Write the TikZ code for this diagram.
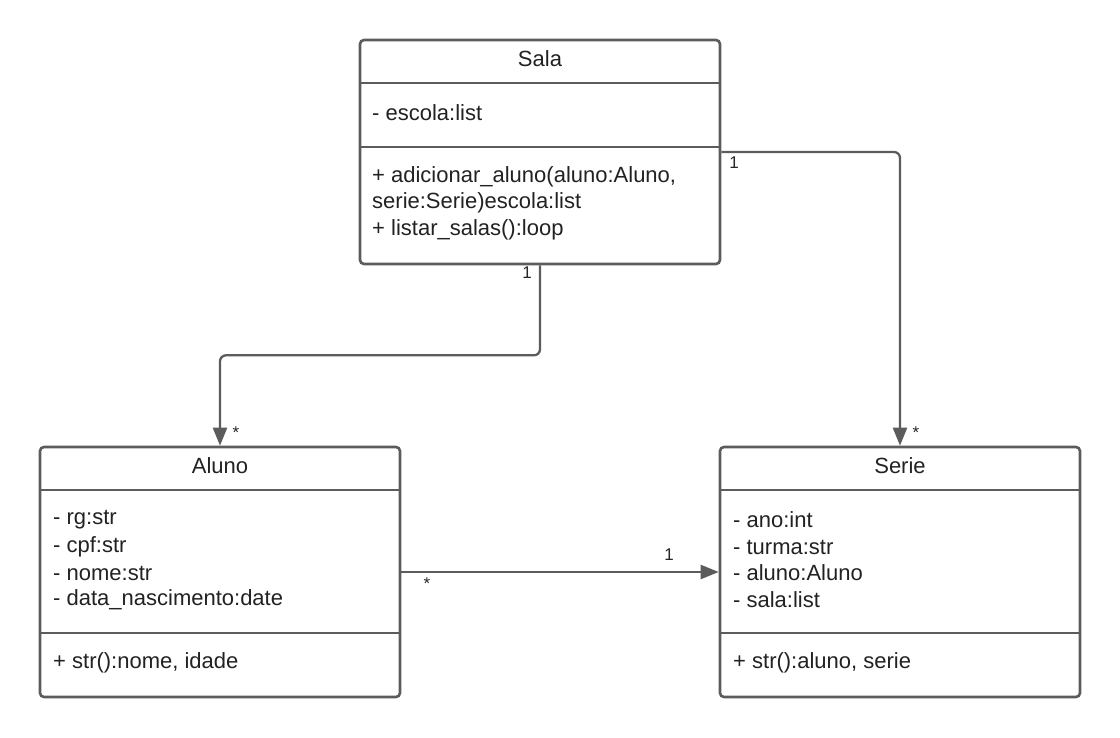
\documentclass[tikz,border=0pt]{standalone}
\usepackage{fontspec}
\setmainfont{Liberation Sans}
\usetikzlibrary{arrows.meta}
\definecolor{linec}{HTML}{5C5C5C}
\definecolor{txtc}{HTML}{222222}
\tikzset{
  umlbox/.style={draw=linec, line width=2.6pt, rounded corners=4pt, fill=white, inner sep=0pt},
  divider/.style={draw=linec, line width=2.6pt},
  title/.style={text=txtc, font=\fontsize{22}{26}\selectfont, inner sep=0pt},
  member/.style={text=txtc, font=\fontsize{22}{26}\selectfont, anchor=west, inner sep=0pt},
  mult/.style={text=black!85, font=\fontsize{17}{19}\selectfont, inner sep=0pt},
  assoc/.style={draw=linec, line width=2.3pt, rounded corners=6pt, -{Triangle[length=18pt,width=14pt]}}
}
\begin{document}
\begin{tikzpicture}[x=1pt,y=-1pt]
\useasboundingbox (0,0) rectangle (1120,738);
% boxes
\node[umlbox, minimum width=360pt, minimum height=224pt] (sala) at (540,152) {};
\node[umlbox, minimum width=360pt, minimum height=250pt] (aluno) at (220,572) {};
\node[umlbox, minimum width=360pt, minimum height=250pt] (serie) at (900,572) {};
% dividers
\draw[divider] (360,83) -- (720,83);
\draw[divider] (360,147) -- (720,147);
\draw[divider] (40,490) -- (400,490);
\draw[divider] (40,633) -- (400,633);
\draw[divider] (720,490) -- (1080,490);
\draw[divider] (720,633) -- (1080,633);
% Sala text
\node[title] (salat) at (540,59) {Sala};
\node[member] (sala1) at (372,113) {- escola:list};
\node[member] (sala2) at (372,177) {+ adicionar\_aluno(aluno:Aluno,};
\node[member] (sala3) at (372,203) {serie:Serie)escola:list};
\node[member] (sala4) at (372,230) {+ listar\_salas():loop};
% Aluno text
\node[title] (alunot) at (220,466) {Aluno};
\node[member] (al1) at (53,520) {- rg:str};
\node[member] (al2) at (53,547) {- cpf:str};
\node[member] (al3) at (53,573) {- nome:str};
\node[member] (al4) at (53,600) {- data\_nascimento:date};
\node[member] (al5) at (53,663) {+ str():nome, idade};
% Serie text
\node[title] (seriet) at (900,466) {Serie};
\node[member] (se1) at (733,520) {- ano:int};
\node[member] (se2) at (733,547) {- turma:str};
\node[member] (se3) at (733,573) {- aluno:Aluno};
\node[member] (se4) at (733,600) {- sala:list};
\node[member] (se5) at (733,663) {+ str():aluno, serie};
% connectors
\draw[assoc] (sala.south) -- ++(0,90) -| (aluno.north);
\draw[assoc] (sala.east) -| (serie.north);
\draw[assoc] (aluno.east) -- (serie.west);
% multiplicities
\node[mult] (m1) at (527,273) {1};
\node[mult] (m2) at (236,433) {*};
\node[mult] (m3) at (734,163) {1};
\node[mult] (m4) at (916,433) {*};
\node[mult] (m5) at (427,584) {*};
\node[mult] (m6) at (669,555) {1};
\end{tikzpicture}
\end{document}
